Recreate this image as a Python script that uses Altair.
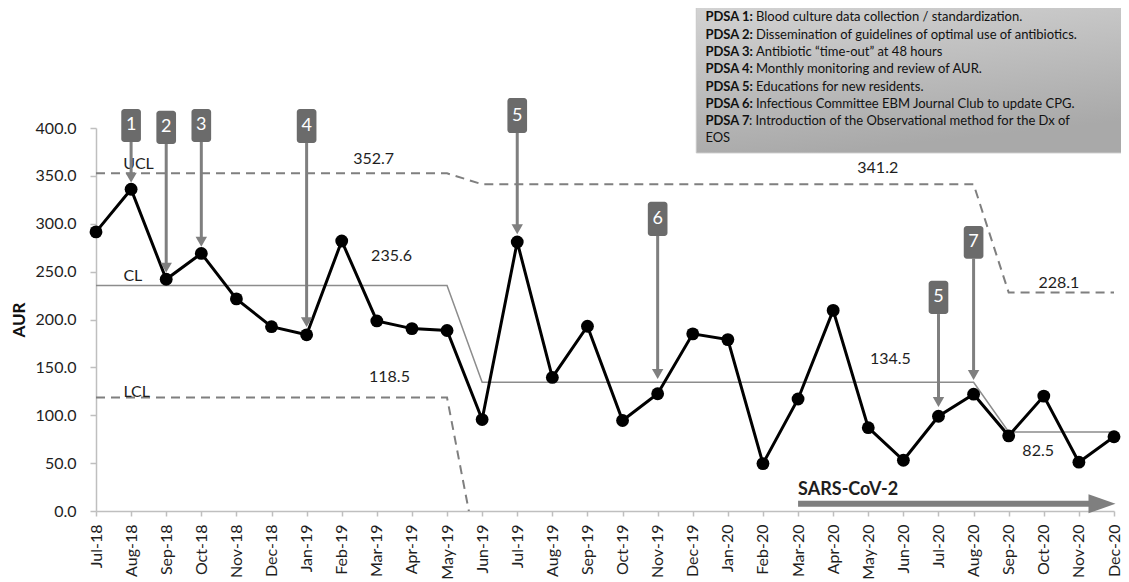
import altair as alt
import pandas as pd

MONTHS = ["Jul-18", "Aug-18", "Sep-18", "Oct-18", "Nov-18", "Dec-18", "Jan-19", "Feb-19",
          "Mar-19", "Apr-19", "May-19", "Jun-19", "Jul-19", "Aug-19", "Sep-19", "Oct-19",
          "Nov-19", "Dec-19", "Jan-20", "Feb-20", "Mar-20", "Apr-20", "May-20", "Jun-20",
          "Jul-20", "Aug-20", "Sep-20", "Oct-20", "Nov-20", "Dec-20"]
AUR = [291.5, 336.0, 242.0, 269.0, 221.5, 192.5, 184.0, 282.0, 198.5, 190.5, 188.5,
       95.5, 281.0, 139.5, 193.0, 94.5, 122.5, 185.0, 179.0, 49.5, 117.0, 209.5,
       87.0, 53.0, 99.0, 122.0, 78.5, 120.0, 51.0, 77.5]

PHASE_START = [0, 11, 26]
UCL_VALUES = [352.7, 341.2, 228.1]
CL_VALUES = [235.6, 134.5, 82.5]
LCL_VALUES = [118.5, -72.2, -63.1]

LIMIT_LABELS = ["UCL", "CL", "LCL", "352.7", "235.6", "118.5", "341.2", "134.5", "228.1", "82.5"]
LIMIT_LABEL_X = [1.21, 1.05, 1.16, 7.91, 8.42, 8.36, 22.27, 22.63, 27.43, 26.84]
LIMIT_LABEL_Y = [362.4, 245.4, 124.3, 367.6, 266.6, 139.9, 358.2, 158.7, 238.4, 63.0]

PDSA_NUM = ["1", "2", "3", "4", "5", "6", "5", "7"]
PDSA_IDX = [1, 2, 3, 6, 12, 16, 24, 25]
PDSA_BOX_TOP = [419.9, 418.1, 419.9, 419.9, 431.3, 323.0, 240.5, 297.7]
PDSA_BOX_BOTTOM = [385.4, 383.3, 385.4, 384.3, 394.8, 287.2, 205.7, 263.5]
PDSA_ARROW_END = [342.9, 248.9, 276.0, 192.0, 289.0, 137.9, 108.6, 136.8]

LEGEND_BOLD = ["PDSA 1:", "PDSA 2:", "PDSA 3:", "PDSA 4:", "PDSA 5:", "PDSA 6:", "PDSA 7", ""]
LEGEND_TEXT = ["Blood culture data collection / standardization.",
               "Dissemination of guidelines of optimal use of antibiotics.",
               "Antibiotic \u201ctime-out\u201d at 48 hours",
               "Monthly monitoring and review of AUR.",
               "Educations for new residents.",
               "Infectious Committee EBM Journal Club to update CPG.",
               ": Introduction of the Observational method for the Dx of",
               "EOS"]
LEGEND_TEXT_X = [18.8, 18.8, 18.8, 18.8, 18.8, 18.8, 18.6, 17.36]
LEGEND_Y = [515.6, 497.4, 479.1, 461.3, 443.2, 425.1, 407.0, 389.2]
LEGEND_BOX = {"x": 17.1, "x2": 29.22, "y": 532.5, "y2": 374.0}

SARS_LABEL = "SARS-CoV-2"
SARS_START = 20
SARS_END = 28.4
SARS_Y = 7.5

FONT = "Lato"
GREY = "#7f7f7f"
TXT = "#1e1e1e"

phase = [max(j for j, s in enumerate(PHASE_START) if i >= s) for i in range(len(MONTHS))]
df = pd.DataFrame({
    "idx": list(range(len(MONTHS))),
    "month": MONTHS,
    "aur": AUR,
    "ucl": [UCL_VALUES[p] for p in phase],
    "cl": [CL_VALUES[p] for p in phase],
    "lcl": [LCL_VALUES[p] for p in phase],
})

label_expr = "[" + ",".join("'" + m + "'" for m in MONTHS) + "][datum.value]"
XSCALE = alt.Scale(domain=[0, len(MONTHS) - 1], nice=False, zero=False)
YSCALE = alt.Scale(domain=[0, 400], nice=False, zero=False)
XAXIS = alt.Axis(values=list(range(len(MONTHS))), labelExpr=label_expr, labelAngle=-90,
                 title=None, grid=False, tickSize=5, labelPadding=8)
YAXIS = alt.Axis(values=list(range(0, 401, 50)), format=".1f", title="AUR", grid=False,
                 tickSize=6, labelPadding=14, titlePadding=7)


def X(field):
    return alt.X(field + ":Q", scale=XSCALE, axis=XAXIS)


def Y(field):
    return alt.Y(field + ":Q", scale=YSCALE, axis=YAXIS)


base = alt.Chart(df)

cl_line = base.mark_line(color="#8c8c8c", strokeWidth=1.5).encode(x=X("idx"), y=Y("cl"))
ucl_line = base.mark_line(color=GREY, strokeWidth=2, strokeDash=[9, 6]).encode(x=X("idx"), y=Y("ucl"))
lcl_line = base.mark_line(color=GREY, strokeWidth=2, strokeDash=[9, 6], clip=True).encode(
    x=X("idx"), y=Y("lcl"))
main_line = base.mark_line(color="black", strokeWidth=3).encode(x=X("idx"), y=Y("aur"))
main_pts = base.mark_circle(color="black", size=165, opacity=1).encode(x=X("idx"), y=Y("aur"))

lab_df = pd.DataFrame({"t": LIMIT_LABELS, "x": LIMIT_LABEL_X, "y": LIMIT_LABEL_Y})
limit_labels = alt.Chart(lab_df).mark_text(font=FONT, fontSize=16, color=TXT,
                                           baseline="middle", align="center").encode(
    x=X("x"), y=Y("y"), text="t:N")

pd_df = pd.DataFrame({"n": PDSA_NUM, "x": PDSA_IDX, "top": PDSA_BOX_TOP,
                      "bottom": PDSA_BOX_BOTTOM, "end": PDSA_ARROW_END})
pd_df["x0"] = pd_df["x"] - 0.28
pd_df["x1"] = pd_df["x"] + 0.28
pd_df["mid"] = (pd_df["top"] + pd_df["bottom"]) / 2
pd_df["shaft_end"] = pd_df["end"] + 6

shafts = alt.Chart(pd_df).mark_rule(color=GREY, strokeWidth=3).encode(
    x=X("x"), y=Y("bottom"), y2="shaft_end:Q")
heads = alt.Chart(pd_df).mark_point(shape="triangle-down", filled=True, color=GREY,
                                    opacity=1, size=130, yOffset=-5).encode(x=X("x"), y=Y("end"))
boxes = alt.Chart(pd_df).mark_rect(color="#6b6b6b", cornerRadius=3).encode(
    x=X("x0"), x2="x1:Q", y=Y("top"), y2="bottom:Q")
box_txt = alt.Chart(pd_df).mark_text(font=FONT, fontSize=18, color="white",
                                     baseline="middle", align="center").encode(
    x=X("x"), y=Y("mid"), text="n:N")

leg_box_df = pd.DataFrame([LEGEND_BOX])
leg_box = alt.Chart(leg_box_df).mark_rect(
    color=alt.Gradient(gradient="linear",
                       stops=[alt.GradientStop(color="#d4d4d4", offset=0),
                              alt.GradientStop(color="#a9a9a9", offset=1)],
                       x1=0, x2=0.3, y1=0, y2=1),
    stroke="#c8c8c8", strokeWidth=1).encode(x=X("x"), x2="x2:Q", y=Y("y"), y2="y2:Q")

leg_df = pd.DataFrame({"b": LEGEND_BOLD, "t": LEGEND_TEXT, "tx": LEGEND_TEXT_X, "y": LEGEND_Y})
leg_df["bx"] = 17.36
leg_bold = alt.Chart(leg_df).mark_text(font=FONT, fontSize=13, fontWeight="bold", color="#111",
                                       align="left", baseline="middle").encode(
    x=X("bx"), y=Y("y"), text="b:N")
leg_reg = alt.Chart(leg_df).mark_text(font=FONT, fontSize=13, color="#111",
                                      align="left", baseline="middle").encode(
    x=X("tx"), y=Y("y"), text="t:N")

sars_df = pd.DataFrame({"x": [SARS_START], "x2": [SARS_END], "y": [SARS_Y],
                        "tip": [len(MONTHS) - 1], "t": [SARS_LABEL]})
sars_bar = alt.Chart(sars_df).mark_rule(color=GREY, strokeWidth=6).encode(
    x=X("x"), x2="x2:Q", y=Y("y"))
sars_head = alt.Chart(sars_df).mark_point(shape="M-1,-0.7L1,0L-1,0.7Z", filled=True, color=GREY,
                                          opacity=1, size=729, xOffset=-12).encode(
    x=X("tip"), y=Y("y"))
sars_txt = alt.Chart(sars_df).mark_text(font=FONT, fontSize=18, fontWeight="bold", color=TXT,
                                        align="left", baseline="middle", dy=-14).encode(
    x=X("x"), y=Y("y"), text="t:N")

chart = alt.layer(
    cl_line, ucl_line, lcl_line, limit_labels, main_line, main_pts,
    shafts, heads, boxes, box_txt, sars_bar, sars_head, sars_txt,
    leg_box, leg_bold, leg_reg
).properties(
    width=1018, height=383,
    autosize=alt.AutoSizeParams(type="none"),
    padding={"left": 88, "top": 120, "right": 7, "bottom": 71},
).configure_view(stroke=None).configure_axis(
    labelFont=FONT, labelFontSize=16, labelColor=TXT,
    titleFont=FONT, titleFontSize=17, titleFontWeight="bold", titleColor="#111",
    domainColor="#bfbfbf", tickColor="#bfbfbf", domainWidth=1.5, tickWidth=1.5,
)

chart.save("out.html", embed_options={"renderer": "svg", "actions": False})
